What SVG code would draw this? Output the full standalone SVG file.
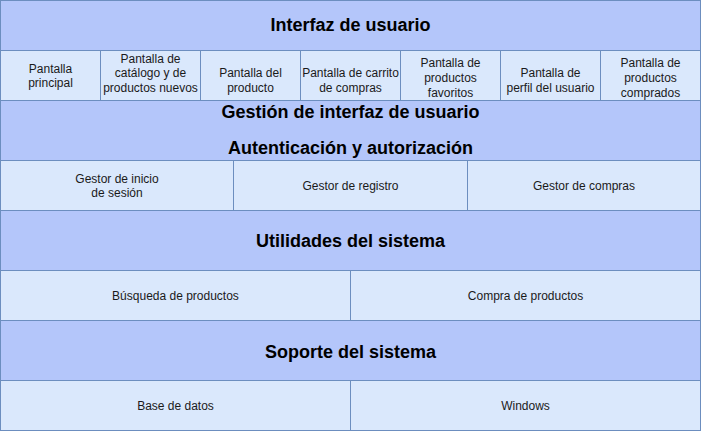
<svg xmlns="http://www.w3.org/2000/svg" width="701" height="431" viewBox="0 0 701 431">
<style>
.h{fill:#B4C6FA;stroke:#6C8EBF;stroke-width:1}
.c{fill:#DAE8FC;stroke:#6C8EBF;stroke-width:1}
.ht{font-family:"Liberation Sans",Arial,sans-serif;font-size:18px;font-weight:bold;fill:#000;text-anchor:middle}
.t{font-family:"Liberation Sans",Arial,sans-serif;font-size:12px;fill:#1a1a1a;text-anchor:middle}
</style>
<rect x="0" y="0" width="701" height="431" fill="#ffffff"/>
<g id="interfaz"><rect class="h" x="0.5" y="0.5" width="700" height="50"/><text class="ht" x="350.5" y="31">Interfaz de usuario</text></g>
<g id="p1"><rect class="c" x="0.5" y="50.5" width="100" height="50"/><text class="t" x="50.5" y="73">Pantalla</text><text class="t" x="50.5" y="87">principal</text></g>
<g id="p2"><rect class="c" x="100.5" y="50.5" width="100" height="50"/><text class="t" x="150.5" y="63">Pantalla de</text><text class="t" x="150.5" y="77">catálogo y de</text><text class="t" x="150.5" y="92">productos nuevos</text></g>
<g id="p3"><rect class="c" x="200.5" y="50.5" width="100" height="50"/><text class="t" x="250.5" y="77">Pantalla del</text><text class="t" x="250.5" y="92">producto</text></g>
<g id="p4"><rect class="c" x="300.5" y="50.5" width="100" height="50"/><text class="t" x="350.5" y="77">Pantalla de carrito</text><text class="t" x="350.5" y="92">de compras</text></g>
<g id="p5"><rect class="c" x="400.5" y="50.5" width="100" height="50"/><text class="t" x="450.5" y="67">Pantalla de</text><text class="t" x="450.5" y="82">productos</text><text class="t" x="450.5" y="97">favoritos</text></g>
<g id="p6"><rect class="c" x="500.5" y="50.5" width="100" height="50"/><text class="t" x="550.5" y="77">Pantalla de</text><text class="t" x="550.5" y="92">perfil del usuario</text></g>
<g id="p7"><rect class="c" x="600.5" y="50.5" width="100" height="50"/><text class="t" x="650.5" y="67">Pantalla de</text><text class="t" x="650.5" y="82">productos</text><text class="t" x="650.5" y="97">comprados</text></g>
<g id="gestion"><rect class="h" x="0.5" y="100.5" width="700" height="60"/><text class="ht" x="350.5" y="118">Gestión de interfaz de usuario</text><text class="ht" x="350.5" y="154">Autenticación y autorización</text></g>
<g id="g1"><rect class="c" x="0.5" y="160.5" width="233" height="50"/><text class="t" x="117" y="183">Gestor de inicio</text><text class="t" x="117" y="197">de sesión</text></g>
<g id="g2"><rect class="c" x="233.5" y="160.5" width="234" height="50"/><text class="t" x="350.5" y="190">Gestor de registro</text></g>
<g id="g3"><rect class="c" x="467.5" y="160.5" width="233" height="50"/><text class="t" x="584" y="190">Gestor de compras</text></g>
<g id="utilidades"><rect class="h" x="0.5" y="210.5" width="700" height="60"/><text class="ht" x="350.5" y="247">Utilidades del sistema</text></g>
<g id="u1"><rect class="c" x="0.5" y="270.5" width="350" height="50"/><text class="t" x="175.5" y="300">Búsqueda de productos</text></g>
<g id="u2"><rect class="c" x="350.5" y="270.5" width="350" height="50"/><text class="t" x="525.5" y="300">Compra de productos</text></g>
<g id="soporte"><rect class="h" x="0.5" y="320.5" width="700" height="60"/><text class="ht" x="350.5" y="358">Soporte del sistema</text></g>
<g id="s1"><rect class="c" x="0.5" y="380.5" width="350" height="50"/><text class="t" x="175.5" y="410">Base de datos</text></g>
<g id="s2"><rect class="c" x="350.5" y="380.5" width="350" height="50"/><text class="t" x="525.5" y="410">Windows</text></g>
<g id="connectors"></g>
</svg>
